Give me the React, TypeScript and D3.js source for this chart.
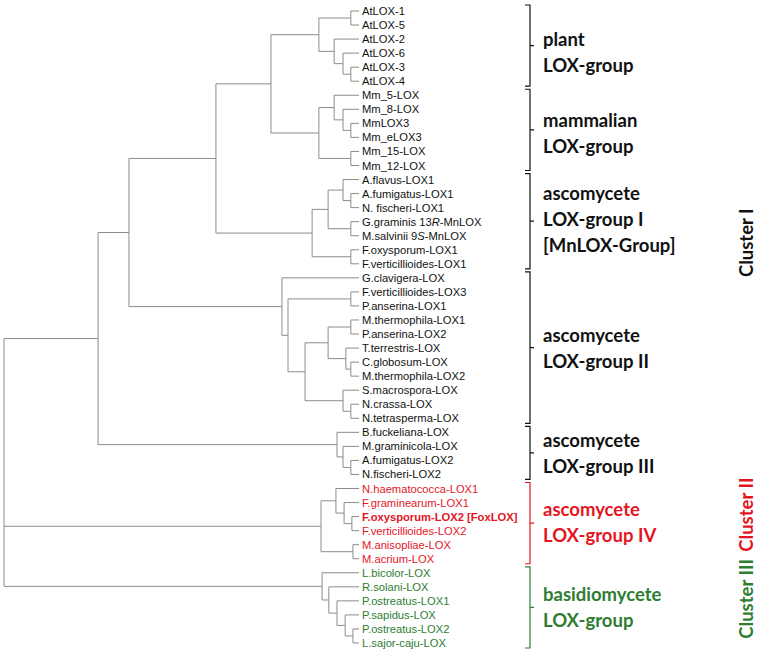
import React from "react";
import * as d3 from "d3";

const W = 758;
const H = 653;

// Tree: [node height (distance from root, tips = 100), ...children]; leaves are names
const TREE: any = [0,
  [26.5,
    [35.2,
      [59.7,
        [75.2,
          [88.7, [97.7, "AtLOX-1", "AtLOX-5"], [93.0, "AtLOX-2", [95.5, "AtLOX-6", [97.7, "AtLOX-3", "AtLOX-4"]]]],
          [88.7, [93.0, "Mm_5-LOX", [95.5, "Mm_8-LOX", [97.7, "MmLOX3", "Mm_eLOX3"]]], [97.7, "Mm_15-LOX", "Mm_12-LOX"]]
        ],
        [86.8,
          [91.3, [95.5, "A.flavus-LOX1", [97.7, "A.fumigatus-LOX1", "N. fischeri-LOX1"]], [97.7, "G.graminis 13*R*-MnLOX", "M.salvinii 9*S*-MnLOX"]],
          [97.7, "F.oxysporum-LOX1", "F.verticillioides-LOX1"]]
      ],
      [78.3, "G.clavigera-LOX",
        [80.0, [97.7, "F.verticillioides-LOX3", "P.anserina-LOX1"],
          [84.8,
            [91.3, [97.7, "M.thermophila-LOX1", "P.anserina-LOX2"], [96.3, "T.terrestris-LOX", [97.7, "C.globosum-LOX", "M.thermophila-LOX2"]]],
            [95.5, "S.macrospora-LOX", [97.7, "N.crassa-LOX", "N.tetrasperma-LOX"]]]]]
    ],
    [93.8, "B.fuckeliana-LOX", [95.5, "M.graminicola-LOX", [97.7, "A.fumigatus-LOX2", "N.fischeri-LOX2"]]]
  ],
  [89.3, [93.5, "N.haematococca-LOX1", [95.8, "F.graminearum-LOX1", [98.0, "F.oxysporum-LOX2 [FoxLOX]", "F.verticillioides-LOX2"]]], [98.3, "M.anisopliae-LOX", "M.acrium-LOX"]],
  [89.6, "L.bicolor-LOX", [91.5, "R.solani-LOX", [93.8, "P.ostreatus-LOX1", [96.1, "P.sapidus-LOX", [98.3, "P.ostreatus-LOX2", "L.sajor-caju-LOX"]]]]]
];

const BOLD_LEAVES = ["F.oxysporum-LOX2 [FoxLOX]"];

const GROUP_LINES = [
  ["plant", "LOX-group"],
  ["mammalian", "LOX-group"],
  ["ascomycete", "LOX-group I", "[MnLOX-Group]"],
  ["ascomycete", "LOX-group II"],
  ["ascomycete", "LOX-group III"],
  ["ascomycete", "LOX-group IV"],
  ["basidiomycete", "LOX-group"],
];
const GROUP_FIRST = [0, 6, 12, 19, 30, 34, 40];
const GROUP_LAST = [5, 11, 18, 29, 33, 39, 45];
const GROUP_CLUSTER = [0, 0, 0, 0, 0, 1, 2];
const GROUP_TEXT_SHIFT = [7, 4, -2, 1, 1, -1, 0];

const CLUSTER_LABELS = ["Cluster I", "Cluster II", "Cluster III"];
const CLUSTER_FIRST = [0, 34, 40];
const CLUSTER_LAST = [33, 39, 45];

const CLUSTER_COLORS = ["#111111", "#e4151f", "#2e7d32"];
const TREE_COLOR = "#8c8c8c";

type TNode = { name?: string; h: number; children?: TNode[] };
function build(a: any): TNode {
  if (typeof a === "string") return { name: a, h: 100 };
  const [h, ...kids] = a;
  return { h, children: kids.map(build) };
}

function leafCluster(i: number) {
  for (let c = 0; c < CLUSTER_FIRST.length; c++) {
    if (i >= CLUSTER_FIRST[c] && i <= CLUSTER_LAST[c]) return c;
  }
  return 0;
}

function renderName(name: string) {
  const parts = name.split(/(\*[^*]+\*)/).filter((p) => p.length);
  return parts.map((p, k) =>
    p.startsWith("*") ? (
      <tspan key={k} fontStyle="italic">{p.slice(1, -1)}</tspan>
    ) : (
      <tspan key={k}>{p}</tspan>
    )
  );
}

export default function App() {
  const root: any = d3.hierarchy(build(TREE));
  const leaves = root.leaves();
  const y = d3.scalePoint<number>().domain(d3.range(leaves.length)).range([11, 643]);
  const x = d3.scaleLinear().domain([0, 100]).range([4, 359]);

  leaves.forEach((l: any, i: number) => {
    l.py = y(i)!;
  });
  root.eachAfter((n: any) => {
    if (n.children) {
      n.py = (n.children[0].py + n.children[n.children.length - 1].py) / 2;
    }
  });

  const segs: { x1: number; y1: number; x2: number; y2: number }[] = [];
  root.each((n: any) => {
    if (!n.children) return;
    const nx = x(n.data.h);
    segs.push({ x1: nx, y1: n.children[0].py, x2: nx, y2: n.children[n.children.length - 1].py });
    n.children.forEach((c: any) => {
      segs.push({ x1: nx, y1: c.py, x2: x(c.data.h), y2: c.py });
    });
  });

  const labelFont = "'Liberation Sans', Arial, sans-serif";
  const groupFont = "Lato, 'Open Sans', sans-serif";
  const bx = 530;
  const lineH = 26;

  return (
    <svg
      width={W}
      height={H}
      style={{ position: "absolute", left: 0, top: 0, background: "#fff" }}
    >
      <rect x={0} y={0} width={W} height={H} fill="#fff" />
      <g stroke={TREE_COLOR} strokeWidth={1} fill="none">
        {segs.map((s, i) => (
          <line key={i} x1={s.x1} y1={s.y1} x2={s.x2} y2={s.y2} />
        ))}
      </g>
      <g fontFamily={labelFont} fontSize={11.2}>
        {leaves.map((l: any, i: number) => {
          const c = leafCluster(i);
          return (
            <text
              key={i}
              x={x(100) + 3}
              y={l.py}
              dy="0.36em"
              fill={CLUSTER_COLORS[c]}
              fontWeight={BOLD_LEAVES.includes(l.data.name) ? 700 : 400}
            >
              {renderName(l.data.name)}
            </text>
          );
        })}
      </g>
      <g fontFamily={groupFont} fontSize={18.5} fontWeight={700}>
        {GROUP_LINES.map((lines, g) => {
          const y0 = y(GROUP_FIRST[g])! - 6;
          const y1 = y(GROUP_LAST[g])! + 5;
          const mid = (y0 + y1) / 2;
          const col = CLUSTER_COLORS[GROUP_CLUSTER[g]];
          const path = `M${bx - 5},${y0}H${bx}V${y1}H${bx - 5}M${bx},${mid}H${bx + 4}`;
          return (
            <g key={g}>
              <path d={path} stroke={col} strokeWidth={1.2} fill="none" />
              {lines.map((t, k) => (
                <text
                  key={k}
                  x={bx + 13}
                  y={mid + GROUP_TEXT_SHIFT[g] + (k - (lines.length - 1) / 2) * lineH}
                  dy="0.35em"
                  fill={col}
                >
                  {t}
                </text>
              ))}
            </g>
          );
        })}
      </g>
      <g fontFamily={groupFont} fontSize={18.5} fontWeight={700}>
        {CLUSTER_LABELS.map((t, c) => {
          const mid = (y(CLUSTER_FIRST[c])! + y(CLUSTER_LAST[c])!) / 2 + (c === 0 ? 0 : -9);
          return (
            <text
              key={c}
              transform={`translate(747,${mid}) rotate(-90)`}
              textAnchor="middle"
              dy="0.35em"
              fill={CLUSTER_COLORS[c]}
            >
              {t}
            </text>
          );
        })}
      </g>
    </svg>
  );
}
